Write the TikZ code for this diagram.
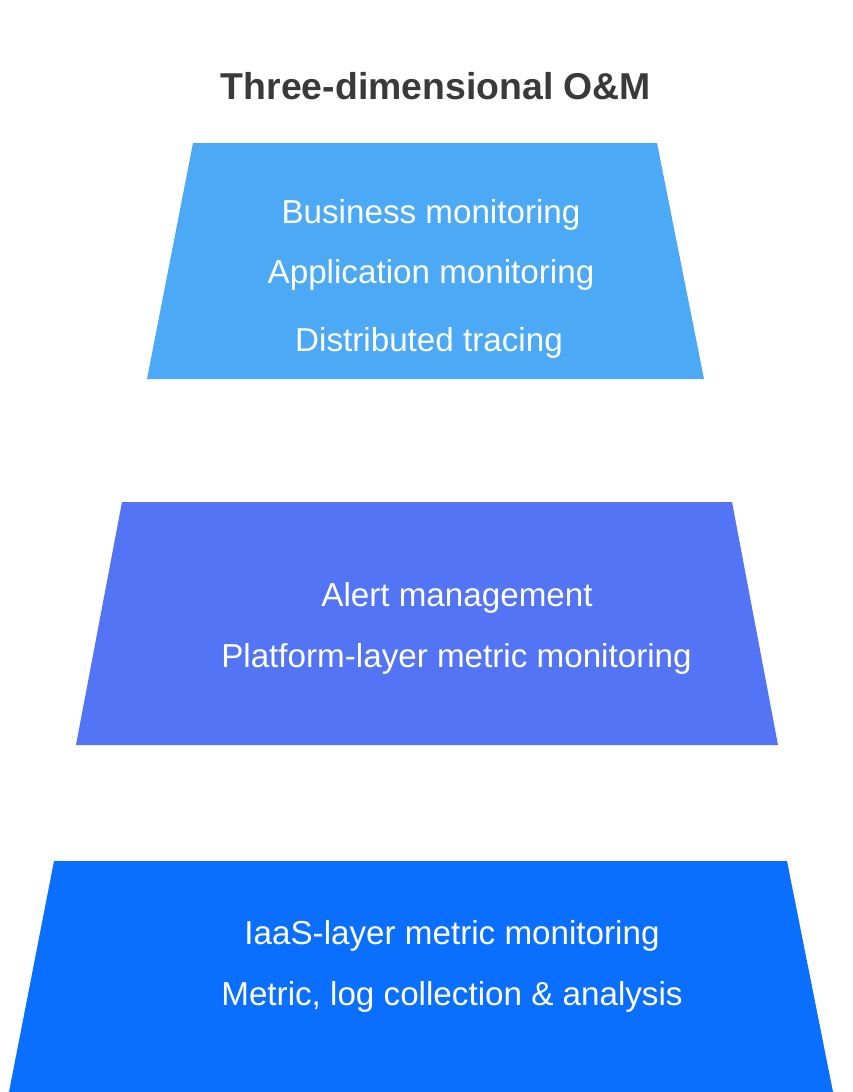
\documentclass[tikz,border=0pt]{standalone}
\usepackage{fontspec}
\setmainfont{Liberation Sans}
\definecolor{layerA}{HTML}{4BA9F5}
\definecolor{layerB}{HTML}{5274F5}
\definecolor{layerC}{HTML}{0A6FFF}
\definecolor{titlegray}{HTML}{3A3A3A}
\begin{document}
\begin{tikzpicture}[x=1pt,y=-1pt,
  layertext/.style={text=white,font=\fontsize{33.2}{38}\selectfont,anchor=base,inner sep=0pt},
  titletext/.style={text=titlegray,font=\fontsize{37.4}{44}\selectfont\bfseries,anchor=base,inner sep=0pt}]
\useasboundingbox (0,0) rectangle (852,1092);
\fill[white] (0,0) rectangle (852,1092);
% layers
\fill[layerA] (193,143) -- (657,143) -- (704,379) -- (147,379) -- cycle;
\fill[layerB] (122,502) -- (732,502) -- (778,745) -- (76,745) -- cycle;
\fill[layerC] (54,861) -- (787,861) -- (833,1092) -- (9,1092) -- cycle;
% title
\node[titletext] (title) at (436,99) {Three-dimensional O\&M};
% texts
\node[layertext] (bus) at (431,223) {Business monitoring};
\node[layertext] (app) at (431,283) {Application monitoring};
\node[layertext] (dist) at (429,351) {Distributed tracing};
\node[layertext] (alert) at (457,606) {Alert management};
\node[layertext] (plat) at (456.5,667) {Platform-layer metric monitoring};
\node[layertext] (iaas) at (452,944) {IaaS-layer metric monitoring};
\node[layertext] (metric) at (452,1005) {Metric, log collection \& analysis};
\end{tikzpicture}
\end{document}
